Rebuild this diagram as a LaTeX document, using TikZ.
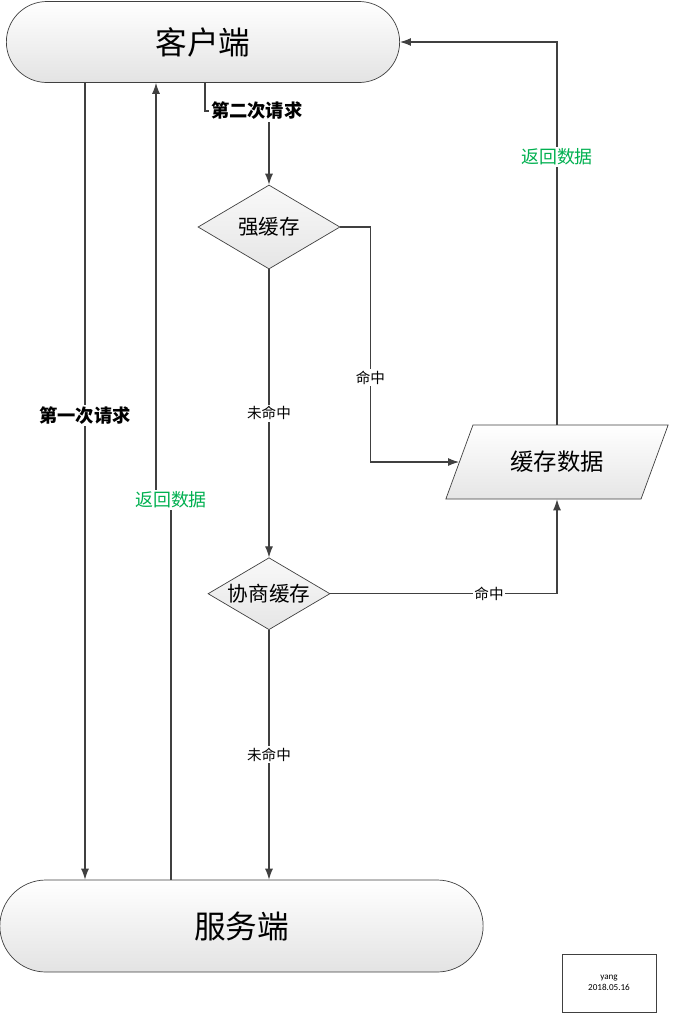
\documentclass[tikz,border=0pt]{standalone}
\usepackage{fontspec}
\setmainfont{Noto Sans CJK SC}
\newfontfamily\latinfont{Carlito}
\usetikzlibrary{arrows.meta, positioning, shapes.geometric, shapes.misc}
\definecolor{linegray}{RGB}{64,64,64}
\definecolor{datagreen}{RGB}{0,176,80}

\begin{document}
\begin{tikzpicture}[
    node distance=0.5cm,
    terminal/.style={rounded rectangle, draw=linegray, top color=white, bottom color=gray!22, minimum height=1.62cm, font=\fontsize{18}{20}\selectfont},
    decision/.style={diamond, draw=linegray, top color=gray!5, bottom color=gray!20, aspect=1.69, inner sep=0pt, font=\fontsize{11.7}{13}\selectfont},
    datablock/.style={trapezium, trapezium left angle=63, trapezium right angle=117, trapezium stretches=true, draw=linegray, top color=white, bottom color=gray!20, minimum width=4.46cm, minimum height=1.48cm, font=\fontsize{13.3}{15}\selectfont},
    arrow/.style={-{Latex[length=2.2mm,width=1.6mm]}, draw=linegray, line width=0.6pt},
    lbl/.style={fill=white, inner sep=1pt, font=\fontsize{8.3}{10}\selectfont},
    req/.style={fill=white, inner sep=1pt, font=\bfseries\fontsize{10.4}{12}\selectfont},
    ret/.style={fill=white, inner sep=1pt, text=datagreen, font=\fontsize{10.2}{12}\selectfont}
]
\useasboundingbox (0,0) rectangle (13.46,-20.28);
\node[terminal, minimum width=8.1cm] (client) at (4.06,-0.84) {客户端};
\node[terminal, minimum width=9.9cm, minimum height=1.84cm] (server) at (4.83,-18.52) {服务端};
\node[decision, minimum width=2.84cm, minimum height=1.68cm] (strong) at (5.38,-4.54) {强缓存};
\node[decision, minimum width=2.44cm, minimum height=1.44cm, below=5.76cm of strong] (xie) {协商缓存};
\node[datablock] (cache) at (11.14,-9.24) {缓存数据};
\node[draw=linegray, fill=white, minimum width=1.88cm, minimum height=1.16cm, align=center, font=\latinfont\fontsize{5.2}{6.5}\selectfont] (sign) at (12.18,-19.66) {yang\\2018.05.16};
\coordinate (firstx) at (1.7,0);
\coordinate (backlow) at (3.42,-10.0);
\coordinate (backup) at (3.12,-10.0);
\coordinate (secondbend) at (4.1,-2.22);
\draw[arrow] (client.south -| firstx) -- node[req, pos=0.417] {第一次请求} (server.north -| firstx);
\draw[arrow] (server.north -| backlow) -- (backlow) -- (backup) -- (client.south -| backup);
\node[ret] (backlbl) at (backlow) {返回数据};
\draw[arrow] (client.south -| secondbend) -- (secondbend) -- (secondbend -| strong.north) -- (strong.north);
\node[req, right=0.08cm of secondbend] (secondlbl) {第二次请求};
\draw[arrow] (strong.east) -- ++(0.6,0) |- node[lbl, pos=0.32] {命中} (cache.left side);
\draw[arrow] (strong) -- node[lbl] {未命中} (xie);
\draw[arrow] (xie) -- node[lbl] {未命中} (server.north -| xie);
\draw[arrow] (xie.east) -| node[lbl, pos=0.35] {命中} (cache.south);
\draw[arrow] (cache.north) |- node[ret, pos=0.35] {返回数据} (client.east);
\end{tikzpicture}
\end{document}
